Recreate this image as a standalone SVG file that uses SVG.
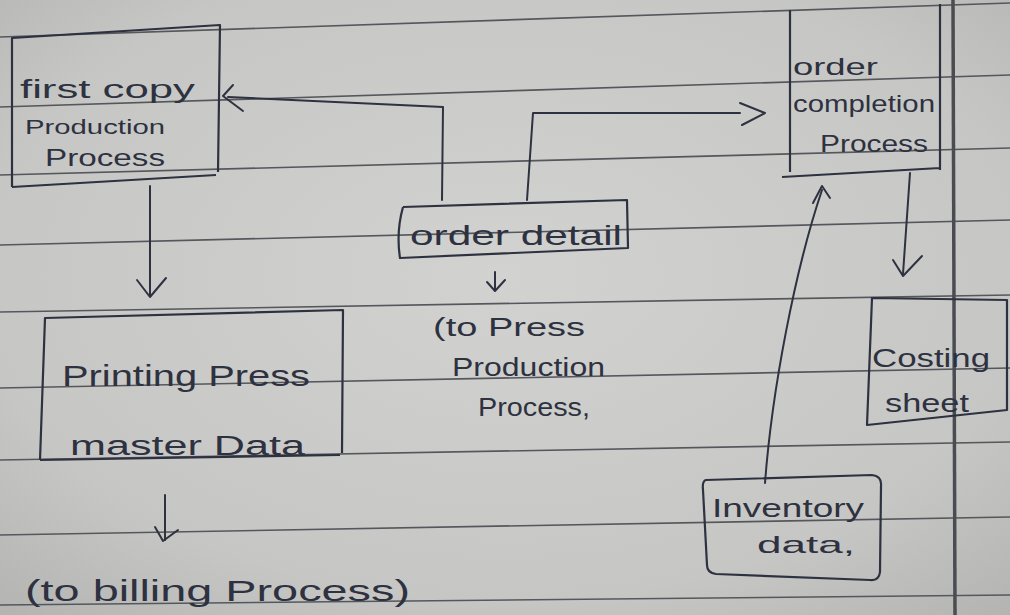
<svg xmlns="http://www.w3.org/2000/svg" width="1010" height="615" viewBox="0 0 1010 615">
<defs>
<radialGradient id="paper" cx="0.5" cy="0.45" r="0.75">
<stop offset="0" stop-color="#d2d3d1"/>
<stop offset="0.7" stop-color="#c6c7c5"/>
<stop offset="1" stop-color="#b3b4b2"/>
</radialGradient>
<style>
.rule{stroke:#55575c;stroke-width:1.6;fill:none}
.box{fill:none;stroke:#2e3140;stroke-width:2.2;stroke-linejoin:round}
.ink{fill:none;stroke:#2e3140;stroke-width:2;stroke-linecap:round;stroke-linejoin:round}
.t{font-family:"Liberation Sans",Arial,sans-serif;fill:#2e3140;}
</style>
</defs>
<rect width="1010" height="615" fill="url(#paper)"/>
<g id="ruled-paper">
<line class="rule" x1="0" y1="37" x2="1010" y2="3"/>
<line class="rule" x1="0" y1="107" x2="1010" y2="75"/>
<line class="rule" x1="0" y1="175" x2="1010" y2="148"/>
<line class="rule" x1="0" y1="245" x2="1010" y2="220"/>
<line class="rule" x1="0" y1="312" x2="1010" y2="295"/>
<line class="rule" x1="0" y1="388" x2="1010" y2="368"/>
<line class="rule" x1="0" y1="460" x2="1010" y2="442"/>
<line class="rule" x1="0" y1="535" x2="1010" y2="517"/>
<line class="rule" x1="0" y1="605" x2="1010" y2="595"/>
<line x1="953" y1="0" x2="955" y2="615" stroke="#4a4c52" stroke-width="3.5"/>
</g>
<g id="connectors">
<path class="ink" d="M150,186 L150,296"/>
<path class="ink" d="M137,280 L150,297 L166,278"/>
<path class="ink" d="M442,200 L443,107 L228,97"/>
<path class="ink" d="M233,85 L223,96 L243,111"/>
<path class="ink" d="M527,200 L533,113 L740,113"/>
<path class="ink" d="M740,103 L765,113 L742,125"/>
<path class="ink" d="M495,272 L495,290"/>
<path class="ink" d="M487,282 L495,291 L505,280"/>
<path class="ink" d="M910,173 L903,274"/>
<path class="ink" d="M893,260 L903,276 L922,256"/>
<path class="ink" d="M765,483 C772,390 795,270 822,190"/>
<path class="ink" d="M813,203 L822,186 L830,198"/>
<path class="ink" d="M165,495 L165,540"/>
<path class="ink" d="M155,527 L163,541 L178,530"/>
</g>
<g id="node-first-copy">
<path class="box" d="M12,187 L12,38 L220,25 L218,172 M12,187 L216,175"/>
<text class="t" x="20" y="98" font-size="26" textLength="175" lengthAdjust="spacingAndGlyphs">first copy</text>
<text class="t" x="25" y="134" font-size="21" textLength="140" lengthAdjust="spacingAndGlyphs">Production</text>
<text class="t" x="45" y="166" font-size="24" textLength="120" lengthAdjust="spacingAndGlyphs">Process</text>
</g>
<g id="node-order-detail">
<path class="box" d="M403,207 L627,200 L628,248 L400,258 Q396,232 403,207"/>
<text class="t" x="410" y="245" font-size="28" textLength="212" lengthAdjust="spacingAndGlyphs">order detail</text>
</g>
<g id="node-order-completion">
<path class="box" d="M790,172 L790,10 M940,4 L940,170 M782,177 L940,168"/>
<text class="t" x="793" y="75" font-size="24" textLength="85" lengthAdjust="spacingAndGlyphs">order</text>
<text class="t" x="793" y="112" font-size="24" textLength="142" lengthAdjust="spacingAndGlyphs">completion</text>
<text class="t" x="820" y="152" font-size="24" textLength="108" lengthAdjust="spacingAndGlyphs">Process</text>
</g>
<g id="node-printing-press">
<path class="box" d="M40,460 L45,318 L343,310 L342,453 M40,460 L340,455"/>
<text class="t" x="62" y="386" font-size="30" textLength="248" lengthAdjust="spacingAndGlyphs">Printing Press</text>
<text class="t" x="70" y="455" font-size="27" textLength="235" lengthAdjust="spacingAndGlyphs">master Data</text>
</g>
<g id="node-costing-sheet">
<path class="box" d="M1007,300 L872,298 L867,425 L1007,410 Z"/>
<text class="t" x="872" y="367" font-size="26" textLength="118" lengthAdjust="spacingAndGlyphs">Costing</text>
<text class="t" x="885" y="412" font-size="26" textLength="84" lengthAdjust="spacingAndGlyphs">sheet</text>
</g>
<g id="node-inventory">
<path class="box" d="M706,480 L872,475 Q882,476 881,486 L880,572 Q879,581 870,580 L716,574 Q707,573 707,565 L703,490 Q702,481 706,480 Z"/>
<text class="t" x="712" y="517" font-size="26" textLength="152" lengthAdjust="spacingAndGlyphs">Inventory</text>
<text class="t" x="757" y="553" font-size="24" textLength="98" lengthAdjust="spacingAndGlyphs">data,</text>
</g>
<g id="labels">
<text class="t" x="433" y="336" font-size="26" textLength="152" lengthAdjust="spacingAndGlyphs">(to Press</text>
<text class="t" x="452" y="376" font-size="26" textLength="153" lengthAdjust="spacingAndGlyphs">Production</text>
<text class="t" x="478" y="416" font-size="26" textLength="112" lengthAdjust="spacingAndGlyphs">Process,</text>
<text class="t" x="25" y="601" font-size="30" textLength="385" lengthAdjust="spacingAndGlyphs">(to billing Process)</text>
</g>
</svg>
